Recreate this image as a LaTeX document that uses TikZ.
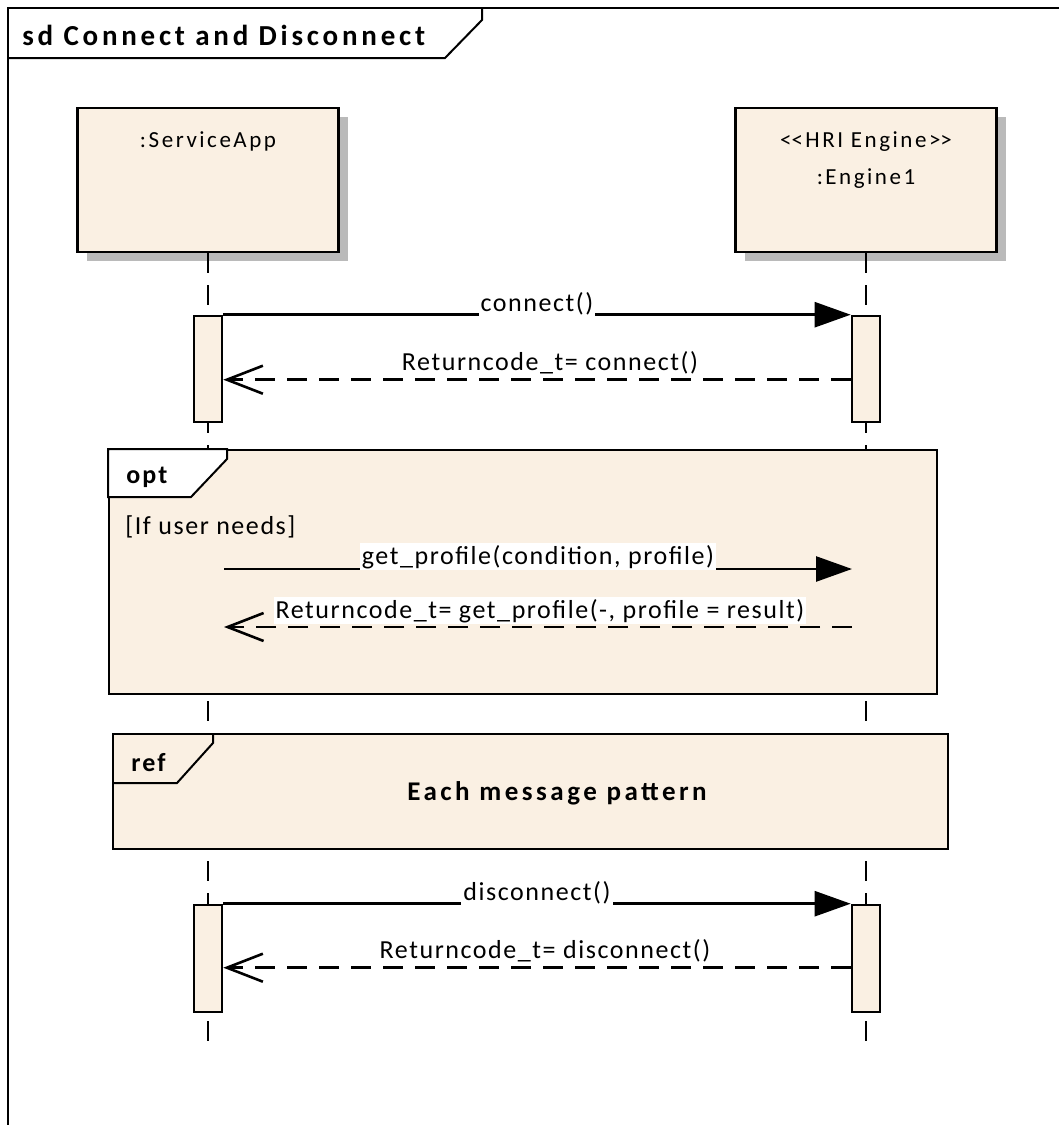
\documentclass[tikz,border=0pt]{standalone}
\usepackage{fontspec}
\setmainfont{Carlito}
\newfontfamily\umlfont{Carlito}[LetterSpace=6]
\newfontfamily\umlbold{Carlito}[LetterSpace=13]
\newfontfamily\umltag{Carlito}[LetterSpace=8]
\newfontfamily\umlplain{Carlito}[LetterSpace=11]
\usetikzlibrary{arrows.meta,shadows,positioning}
\definecolor{umlfill}{RGB}{250,240,227}
\tikzset{
head/.style={draw,fill=umlfill,minimum width=261pt,minimum height=144pt,inner sep=0pt,
  drop shadow={shadow xshift=9pt,shadow yshift=-9pt,fill=black!27,opacity=1}},
headtext/.style={font=\umlplain\fontsize{23}{27}\selectfont,inner sep=0pt},
lifeline/.style={dash pattern=on 20pt off 12pt},
actbar/.style={draw,fill=umlfill,minimum width=28pt,inner sep=0pt},
call/.style={-{Triangle[length=36pt,width=25pt]}},
reply/.style={dash pattern=on 20pt off 12pt,-{Straight Barb[length=36pt,width=28pt]}},
msg/.style={font=\umlfont\fontsize{26}{30}\selectfont,inner sep=2pt,fill=white,anchor=base},
fragment/.style={draw,fill=umlfill,line width=2pt,inner sep=0pt},
fraglabel/.style={font=\umltag\bfseries\fontsize{26}{30}\selectfont,anchor=west,inner sep=0pt}
}
\begin{document}
\begin{tikzpicture}[x=1pt,y=-1pt,line width=2.6pt]
\useasboundingbox (0,0) rectangle (1059,1125);
\draw[line width=2pt] (1070,8) -- (8,8) -- (8,1140);
\draw[line width=2pt] (8,58) -- (445,58) -- (482,20) -- (482,8);
\node[fraglabel,font=\umlbold\bfseries\fontsize{29}{34}\selectfont] (title) at (21,35) {sd Connect and Disconnect};

\coordinate (appEnd) at (208,1045);
\coordinate (engEnd) at (866,1045);
\node[head] (app) at (208,180) {};
\node[head] (eng) at (866,180) {};
\draw[lifeline] (app.south) -- (appEnd);
\draw[lifeline] (eng.south) -- (engEnd);
\node[headtext] (appName) at (208,141) {:ServiceApp};
\node[headtext] (engStereo) at (866,142) {<\kern0pt<HRI Engine>\kern0pt>};
\node[headtext] (engName) at (866,179) {:Engine1};

\node[actbar,minimum height=106pt] (appAct1) at (208,369) {};
\node[actbar,minimum height=106pt] (engAct1) at (866,369) {};
\node[actbar,minimum height=107pt] (appAct2) at (208,958.5) {};
\node[actbar,minimum height=107pt] (engAct2) at (866,958.5) {};

\draw[call] (appAct1.north east) -- node[msg,yshift=3pt] {connect()} (engAct1.north west);
\draw[reply] ([yshift=-65pt]engAct1.north west) -- node[msg,yshift=9pt,xshift=13pt] {Returncode\_t= connect()} ([yshift=-65pt]appAct1.north east);

\node[fragment,minimum width=828pt,minimum height=244pt] (opt) at (523,572) {};
\draw[line width=2pt,fill=white] (opt.north west) -- ++(0,48) -- ++(83,0) -- ++(36,-38) -- ++(0,-10) -- cycle;
\node[fraglabel] (optName) at (125,477) {opt};
\node[headtext,font=\umlfont\fontsize{26}{30}\selectfont,anchor=west] (guard) at (124,527) {[If user needs]};
\coordinate (gpFrom) at (224,569);
\coordinate (gpTo) at (852,569);
\coordinate (rpFrom) at (852,627);
\coordinate (rpTo) at (224,627);
\draw[call] (gpFrom) -- node[msg,yshift=5pt] {get\_profile(condition, profile)} (gpTo);
\draw[reply] (rpFrom) -- node[msg,yshift=9pt,xshift=2pt] {Returncode\_t= get\_profile(-, profile = result)} (rpTo);

\node[fragment,minimum width=835pt,minimum height=115pt] (refFrame) at (530.5,791.5) {};
\draw[line width=2pt] (refFrame.north west) ++(0,50) -- ++(65,0) -- ++(36,-40) -- ++(0,-10);
\node[fraglabel] (refName) at (130,763) {ref};
\node[fraglabel,anchor=center,font=\umlbold\bfseries\fontsize{27}{32}\selectfont] (refText) at (557,793) {Each message pattern};

\draw[call] (appAct2.north east) -- node[msg,yshift=3pt] {disconnect()} (engAct2.north west);
\draw[reply] ([yshift=-64pt]engAct2.north west) -- node[msg,yshift=9pt,xshift=8pt] {Returncode\_t= disconnect()} ([yshift=-64pt]appAct2.north east);
\end{tikzpicture}
\end{document}
